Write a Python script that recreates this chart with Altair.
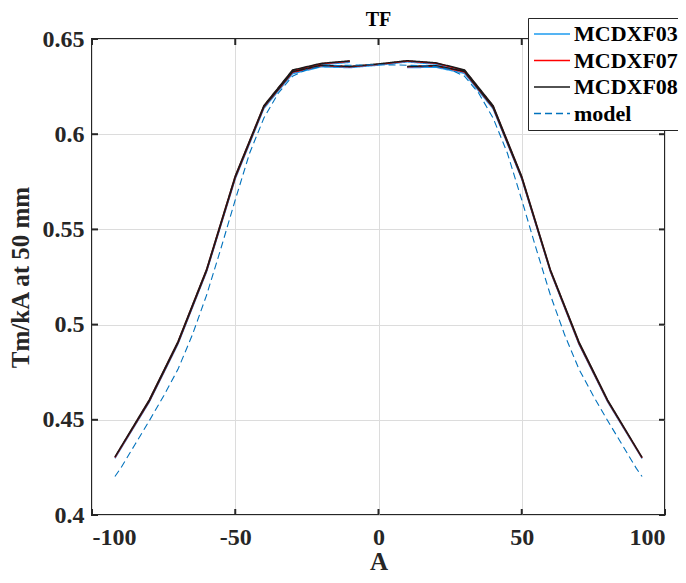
import altair as alt
import pandas as pd

# ---- data ----
path_x = [-10, -20, -30, -40, -50, -60, -70, -80, -92,
          -80, -70, -60, -50, -40, -30, -20, -10, 0,
          10, 20, 30, 40, 50, 60, 70, 80, 92,
          80, 70, 60, 50, 40, 30, 20, 10]

f08 = [0.6385, 0.6372, 0.6337, 0.6150, 0.5780, 0.5290, 0.4910, 0.4605, 0.4305,
       0.4600, 0.4905, 0.5285, 0.5775, 0.6145, 0.6328, 0.6362, 0.6356, 0.6369,
       0.6386, 0.6375, 0.6338, 0.6150, 0.5778, 0.5288, 0.4908, 0.4603, 0.4302,
       0.4600, 0.4903, 0.5284, 0.5772, 0.6142, 0.6330, 0.6360, 0.6356]
f07 = [0.6383, 0.6370, 0.6334, 0.6148, 0.5778, 0.5288, 0.4908, 0.4603, 0.4302,
       0.4598, 0.4903, 0.5283, 0.5772, 0.6143, 0.6325, 0.6360, 0.6354, 0.6367,
       0.6384, 0.6373, 0.6335, 0.6147, 0.5775, 0.5285, 0.4905, 0.4600, 0.4300,
       0.4598, 0.4900, 0.5282, 0.5770, 0.6140, 0.6327, 0.6358, 0.6354]
f03 = [0.6378, 0.6365, 0.6326, 0.6140, 0.5770, 0.5282, 0.4902, 0.4598, 0.4298,
       0.4594, 0.4898, 0.5278, 0.5766, 0.6136, 0.6318, 0.6354, 0.6350, 0.6363,
       0.6380, 0.6368, 0.6328, 0.6142, 0.5770, 0.5280, 0.4900, 0.4596, 0.4297,
       0.4594, 0.4896, 0.5278, 0.5765, 0.6134, 0.6320, 0.6352, 0.6350]

model_x = [-92, -90, -85, -80, -75, -70, -65, -60, -55, -50, -45, -40, -35, -30,
           -25, -20, -15, -10, -5, 0, 5, 10, 15, 20, 25, 30, 35, 40, 45, 50,
           55, 60, 65, 70, 75, 80, 85, 90, 92]
model_y = [0.4202, 0.4245, 0.4370, 0.4495, 0.4625, 0.4765, 0.4945, 0.5155, 0.5400,
           0.5655, 0.5900, 0.6085, 0.6215, 0.6305, 0.6340, 0.6355, 0.6360, 0.6362,
           0.6364, 0.6365, 0.6364, 0.6362, 0.6360, 0.6355, 0.6340, 0.6305, 0.6215,
           0.6085, 0.5900, 0.5655, 0.5400, 0.5155, 0.4945, 0.4765, 0.4625, 0.4495,
           0.4370, 0.4245, 0.4202]

series_names = ["MCDXF03", "MCDXF07", "MCDXF08", "model"]
series_colors = ["#1E9CF0", "#FF0000", "#1A1A1A", "#0072BD"]
series_dashes = [[1, 0], [1, 0], [1, 0], [7, 4]]

x_ticks = [-100, -50, 0, 50, 100]
y_ticks = [0.4, 0.45, 0.5, 0.55, 0.6, 0.65]
title_text = ["TF"]

# ---- tables ----
rows = []
for name, vals in [("MCDXF03", f03), ("MCDXF07", f07), ("MCDXF08", f08)]:
    for i, (xv, yv) in enumerate(zip(path_x, vals)):
        rows.append({"series": name, "A": xv, "TF": yv, "idx": i})
meas = pd.DataFrame(rows)
model = pd.DataFrame({"series": "model", "A": model_x, "TF": model_y,
                      "idx": list(range(len(model_x)))})
xt = pd.DataFrame({"v": x_ticks})
yt = pd.DataFrame({"v": y_ticks})
tt = pd.DataFrame({"t": title_text})

W, H = 573, 476
FONT = "Liberation Serif"

xs = alt.Scale(domain=[-100, 100], nice=False)
ysc = alt.Scale(domain=[0.4, 0.65], nice=False, zero=False)

def make_legend():
    return alt.Legend(
        title=None, orient="none", legendX=436, legendY=-21,
        symbolType="stroke", symbolSize=1296, symbolStrokeWidth=1.4,
        clipHeight=22,
        labelFont=FONT, labelFontWeight="bold", labelFontSize=22,
        labelColor="#000000", labelOffset=3,
        strokeColor="#262626", fillColor="white", padding=5, rowPadding=4.5,
    )

color_enc = alt.Color(
    "series:N",
    scale=alt.Scale(domain=series_names, range=series_colors),
    legend=make_legend(),
)
dash_enc = alt.StrokeDash(
    "series:N",
    scale=alt.Scale(domain=series_names, range=series_dashes),
    legend=make_legend(),
)

x_enc = alt.X("A:Q", scale=xs, title="A",
              axis=alt.Axis(values=x_ticks, labelExpr="'' + datum.value",
                            grid=True, gridColor="#DCDCDC", gridWidth=1,
                            domain=False, ticks=False, labelPadding=10,
                            titlePadding=0))
y_enc = alt.Y("TF:Q", scale=ysc, title="Tm/kA at 50 mm",
              axis=alt.Axis(values=y_ticks, format=".2~f",
                            grid=True, gridColor="#DCDCDC", gridWidth=1,
                            domain=False, ticks=False, labelPadding=8,
                            titlePadding=9))

meas_lines = alt.Chart(meas).mark_line(strokeWidth=1.5).encode(
    x=x_enc, y=y_enc, color=color_enc, strokeDash=dash_enc,
    order="idx:Q", detail="series:N",
)
model_line = alt.Chart(model).mark_line(strokeWidth=1.1).encode(
    x=alt.X("A:Q", scale=xs), y=alt.Y("TF:Q", scale=ysc),
    color=color_enc, strokeDash=dash_enc, order="idx:Q",
)

tick_col = "#262626"
xt_bot = alt.Chart(xt).mark_rule(color=tick_col, strokeWidth=2).encode(
    x=alt.X("v:Q", scale=xs), y=alt.value(H), y2=alt.value(H - 6))
xt_top = alt.Chart(xt).mark_rule(color=tick_col, strokeWidth=2).encode(
    x=alt.X("v:Q", scale=xs), y=alt.value(0), y2=alt.value(6))
yt_left = alt.Chart(yt).mark_rule(color=tick_col, strokeWidth=2).encode(
    y=alt.Y("v:Q", scale=ysc), x=alt.value(0), x2=alt.value(6))
yt_right = alt.Chart(yt).mark_rule(color=tick_col, strokeWidth=2).encode(
    y=alt.Y("v:Q", scale=ysc), x=alt.value(W), x2=alt.value(W - 6))

title_mark = alt.Chart(tt).mark_text(
    font=FONT, fontSize=20, fontWeight="bold", color="#000000",
    baseline="middle", align="center",
).encode(text="t:N", x=alt.value(W / 2), y=alt.value(-19))

chart = alt.layer(
    meas_lines, model_line, xt_bot, xt_top, yt_left, yt_right, title_mark
).properties(
    width=W, height=H,
    autosize=alt.AutoSizeParams(type="none"),
    padding={"left": 84, "top": 31, "right": 13, "bottom": 60},
).configure_view(
    stroke="#262626", strokeWidth=2
).configure_axis(
    labelFont=FONT, labelFontWeight="bold", labelFontSize=24,
    labelColor="#262626",
    titleFont=FONT, titleFontWeight="bold", titleFontSize=25,
    titleColor="#262626",
)

chart.save("out.html", embed_options={"renderer": "svg", "actions": False})
